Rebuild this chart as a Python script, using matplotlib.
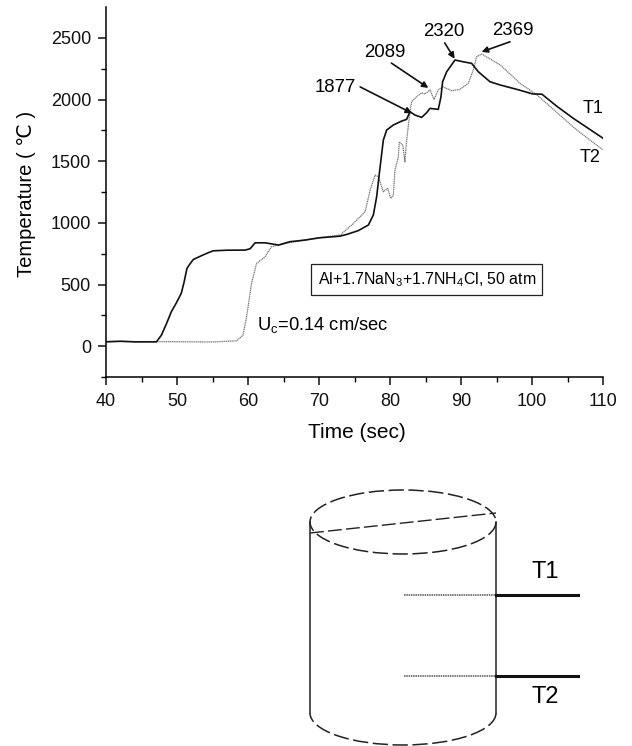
import numpy as np
import matplotlib
matplotlib.use('Agg')
import matplotlib.pyplot as plt
from matplotlib.patches import Arc

plt.rcParams['font.family'] = ['Liberation Sans', 'DejaVu Sans']
plt.rcParams['mathtext.fontset'] = 'custom'
plt.rcParams['mathtext.rm'] = 'Liberation Sans'
plt.rcParams['mathtext.default'] = 'regular'

## Curves

t1_time = [40, 42, 44, 47.1, 47.8, 48.5, 49.2, 49.9, 50.6, 51, 51.4, 51.8, 52.3, 53.5, 54.5, 55.1, 57, 59.6, 60.3, 61, 62.4,
           64.3, 65.9, 68, 70, 72.96, 73.9, 75.5, 76.95, 77.65, 78.12, 78.5, 79.06, 79.53, 80.46, 81.64, 82.34,
           82.81, 83.52, 84.46, 85.16, 85.63, 86.8, 87.18, 87.41, 87.98, 89.15, 90.3, 91.5, 92.44, 94.08, 95.5,
           98, 100.1, 101.4, 103.5, 105.8, 110]
t1_temp = [35, 40, 35, 35, 89, 180, 279, 350, 428, 520, 630, 665, 703, 735, 760, 773, 778, 779, 790, 838, 838,
           820, 847, 860, 878, 892, 906, 936, 982, 1063, 1211, 1401, 1671, 1752, 1793, 1825, 1839,
           1901, 1874, 1855, 1893, 1928, 1920, 2022, 2144, 2225, 2320, 2306, 2293, 2225, 2144, 2118,
           2080, 2045, 2043, 1945, 1848, 1686]

t2_time = [40, 50, 55, 58.4, 59.3, 59.8, 60.5, 61.2, 62.4, 63.3, 64.3, 65.9, 68, 70, 73, 74.84, 76.5, 77.2, 77.9, 78.36,
           79.06, 79.67, 80.1, 80.47, 80.7, 81.18, 81.3, 81.8, 82.1, 82.35, 82.81, 83.05, 83.75, 84.46, 84.9, 85.63,
           86.2, 86.8, 87.41, 88.68, 89.85, 91.03, 91.73, 92.2, 92.9, 95.5, 98.3, 100.7, 106.3, 110]
t2_temp = [38, 36, 34, 43, 89, 238, 509, 671, 725, 806, 820, 840, 860, 880, 901, 995, 1090, 1266, 1387, 1374,
           1252, 1279, 1198, 1225, 1428, 1536, 1657, 1630, 1495, 1671, 1901, 1982, 2022, 2055, 2044, 2077,
           2001, 2077, 2104, 2071, 2082, 2131, 2239, 2347, 2369, 2281, 2132, 2037, 1753, 1591]

# (label, label x, label y, arrow tail x, tail y, head x, head y)
peak_labels = ['1877', '2089', '2320', '2369']
label_x = [72.3, 79.3, 87.6, 97.3]
label_y = [2094, 2378, 2549, 2557]
tail_x = [75.8, 80.2, 87.7, 96.9]
tail_y = [2102, 2295, 2459, 2468]
head_x = [83.1, 85.4, 89.1, 92.9]
head_y = [1889, 2094, 2330, 2386]

xticks = [40, 50, 60, 70, 80, 90, 100, 110]
yticks = [0, 500, 1000, 1500, 2000, 2500]

W, H = 632, 746
fig = plt.figure(figsize=(W / 100, H / 100), dpi=100)
ax = fig.add_axes([106 / W, (H - 377) / H, 497 / W, 370 / H])

ax.plot(t2_time, t2_temp, color='#777777', lw=0.9, ls=(0, (1, 0.5)))
ax.plot(t1_time, t1_temp, color='#111111', lw=1.2)

ax.set_xlim(40, 110)
ax.set_ylim(-250, 2750)
ax.set_xticks(xticks)
ax.set_yticks(yticks)
ax.set_xticks(np.arange(45, 110, 10), minor=True)
ax.set_yticks(np.arange(-250, 2750, 500), minor=True)
ax.tick_params(which='major', length=5.8, width=1.1, labelsize=13, colors='#111111')
ax.tick_params(axis='x', which='major', pad=6)
ax.tick_params(axis='y', which='major', pad=5)
ax.tick_params(which='minor', length=3.6, width=1)
ax.spines['top'].set_visible(False)
ax.spines['right'].set_visible(False)
ax.spines['left'].set_linewidth(1.1)
ax.spines['bottom'].set_linewidth(1.1)
ax.set_xlabel('Time (sec)', fontsize=15)
ax.set_ylabel('Temperature ( ℃ )', fontsize=14.5)
ax.xaxis.set_label_coords(0.505, -0.124)
ax.yaxis.set_label_coords(-0.141, 0.496)

for i in range(len(peak_labels)):
    ax.text(label_x[i], label_y[i], peak_labels[i], fontsize=13.4, ha='center', va='center')
    ax.annotate('', xy=(head_x[i], head_y[i]), xytext=(tail_x[i], tail_y[i]),
                arrowprops=dict(arrowstyle='-|>', color='#111111', lw=1.2, shrinkA=0, shrinkB=0, mutation_scale=9))

ax.text(108.6, 1924, 'T1', fontsize=13, ha='center', va='center')
ax.text(108.2, 1526, 'T2', fontsize=13, ha='center', va='center')
ax.text(61.3, 170, 'U$_c$=0.14 cm/sec', fontsize=13.2, ha='left', va='center')
ax.text(85.2, 540, 'Al+1.7NaN$_3$+1.7NH$_4$Cl, 50 atm', fontsize=11.4, ha='center', va='center',
        bbox=dict(boxstyle='square,pad=0.4', fc='white', ec='#222222', lw=0.9))

## Cylinder sketch underneath, drawn in pixel coordinates

sk = fig.add_axes([0, 0, 1, 1])
sk.set_xlim(0, W)
sk.set_ylim(H, 0)
sk.axis('off')
sk.patch.set_alpha(0)

dash = (0, (10, 3))
sk.add_patch(Arc((403, 522), 186, 64, color='#222222', lw=1.1, ls=dash))
sk.add_patch(Arc((403, 713), 186, 64, theta1=0, theta2=180, color='#222222', lw=1.1, ls=dash))
sk.plot([310, 310], [522, 713], color='#222222', lw=1.1)
sk.plot([496, 496], [522, 713], color='#222222', lw=1.1)
sk.plot([310, 496], [533, 513], color='#222222', lw=1.0, ls=dash)

for y, name, ty in [(595, 'T1', 572), (676, 'T2', 697)]:
    sk.plot([404, 496], [y, y], color='#555555', lw=1.1, ls=(0, (1, 0.5)))
    sk.plot([496, 578], [y, y], color='#111111', lw=2.2)
    sk.text(545, ty, name, fontsize=17, ha='center', va='center')

fig.savefig('out.png', dpi=100)
